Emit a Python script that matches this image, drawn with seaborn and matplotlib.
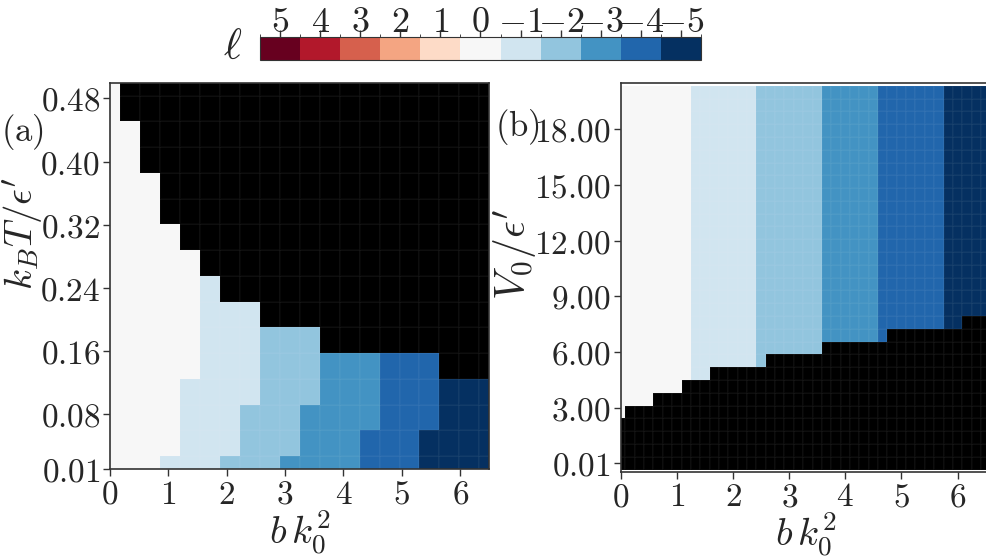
import numpy as np
import pandas as pd
import matplotlib
matplotlib.use("Agg")
import matplotlib.pyplot as plt
from matplotlib.colors import ListedColormap, BoundaryNorm
from matplotlib.cm import ScalarMappable
import seaborn as sns

X = np.nan  # unbound / no vortex state (drawn black)

# ---- panel (a): winding number l vs (b k0^2, k_B T / eps') ----
bk_a = [0.00, 0.34, 0.68, 1.03, 1.37, 1.71, 2.05, 2.39, 2.74, 3.08,
        3.42, 3.76, 4.11, 4.45, 4.79, 5.13, 5.47, 5.82, 6.16, 6.50]
kT_a = [0.010, 0.043, 0.075, 0.108, 0.141, 0.173, 0.206, 0.239,
        0.271, 0.304, 0.337, 0.369, 0.402, 0.435, 0.467, 0.500]
# rows from kT = 0.01 (bottom) up to kT = 0.50 (top)
ell_a = [
    [0, 0, 0, -1, -1, -1, -2, -2, -2, -3, -3, -3, -3, -4, -4, -4, -5, -5, -5, -5],
    [0, 0, 0, 0, -1, -1, -1, -2, -2, -2, -3, -3, -3, -4, -4, -4, -5, -5, -5, -5],
    [0, 0, 0, 0, -1, -1, -1, -2, -2, -2, -3, -3, -3, -3, -4, -4, -4, -5, -5, -5],
    [0, 0, 0, 0, -1, -1, -1, -1, -2, -2, -2, -3, -3, -3, -4, -4, -4, -5, -5, -5],
    [0, 0, 0, 0, 0, -1, -1, -1, -2, -2, -2, -3, -3, -3, -4, -4, -4, X, X, X],
    [0, 0, 0, 0, 0, -1, -1, -1, -2, -2, -2, X, X, X, X, X, X, X, X, X],
    [0, 0, 0, 0, 0, -1, -1, -1, X, X, X, X, X, X, X, X, X, X, X, X],
    [0, 0, 0, 0, 0, -1, X, X, X, X, X, X, X, X, X, X, X, X, X, X],
    [0, 0, 0, 0, 0, X, X, X, X, X, X, X, X, X, X, X, X, X, X, X],
    [0, 0, 0, 0, X, X, X, X, X, X, X, X, X, X, X, X, X, X, X, X],
    [0, 0, 0, X, X, X, X, X, X, X, X, X, X, X, X, X, X, X, X, X],
    [0, 0, 0, X, X, X, X, X, X, X, X, X, X, X, X, X, X, X, X, X],
    [0, 0, X, X, X, X, X, X, X, X, X, X, X, X, X, X, X, X, X, X],
    [0, 0, X, X, X, X, X, X, X, X, X, X, X, X, X, X, X, X, X, X],
    [0, X, X, X, X, X, X, X, X, X, X, X, X, X, X, X, X, X, X, X],
    [0, X, X, X, X, X, X, X, X, X, X, X, X, X, X, X, X, X, X, X],
]

# ---- panel (b): winding number l vs (b k0^2, V0 / eps') ----
bk_b = [0.00, 0.17, 0.33, 0.50, 0.67, 0.83, 1.00, 1.17, 1.33, 1.50,
        1.67, 1.83, 2.00, 2.17, 2.33, 2.50, 2.67, 2.83, 3.00, 3.17,
        3.33, 3.50, 3.67, 3.83, 4.00, 4.17, 4.33, 4.50, 4.67, 4.83,
        5.00, 5.17, 5.33, 5.50, 5.67, 5.83, 6.00, 6.17, 6.33, 6.50]
V0_b = [0.01, 0.70, 1.39, 2.08, 2.77, 3.46, 4.15, 4.84, 5.52, 6.21,
        6.90, 7.59, 8.28, 8.97, 9.66, 10.35, 11.04, 11.73, 12.42, 13.11,
        13.80, 14.49, 15.18, 15.86, 16.55, 17.24, 17.93, 18.62, 19.31, 20.00]
# l above the boundary, per column
ell_b = [0, 0, 0, 0, 0, 0, 0, 0, -1, -1,
         -1, -1, -1, -1, -1, -2, -2, -2, -2, -2,
         -2, -2, -3, -3, -3, -3, -3, -3, -4, -4,
         -4, -4, -4, -4, -4, -5, -5, -5, -5, -5]
# number of V0 rows (from the bottom) with no bound state, per column
unbound_rows_b = [4, 5, 5, 5, 6, 6, 6, 7, 7, 7,
                  8, 8, 8, 8, 8, 8, 9, 9, 9, 9,
                  9, 9, 10, 10, 10, 10, 10, 10, 10, 11,
                  11, 11, 11, 11, 11, 11, 11, 12, 12, 12]

ell_ticks = [5, 4, 3, 2, 1, 0, -1, -2, -3, -4, -5]
yticks_a = [0.01, 0.08, 0.16, 0.24, 0.32, 0.40, 0.48]
yticks_b = [0.01, 3, 6, 9, 12, 15, 18]
xticks = [0, 1, 2, 3, 4, 5, 6]

# RdBu 11 classes, ordered l = -5 ... 5
ell_colors = ["#053061", "#2166ac", "#4393c3", "#92c5de", "#d1e5f0", "#f7f7f7",
              "#fddbc7", "#f4a582", "#d6604d", "#b2182b", "#67001f"]
UNBOUND = 6

sns.set_style("ticks")
plt.rcParams["mathtext.fontset"] = "cm"
plt.rcParams["font.family"] = ["DejaVu Serif"]


def to_index(v, vals):
    # heatmap cell i is centred at i + 0.5
    return 0.5 + (np.asarray(v, float) - vals[0]) / (vals[-1] - vals[0]) * (len(vals) - 1)


def tick_text(v):
    # braces keep mathtext from padding a leading minus like a binary operator
    return f"${{-}}{-v}$" if v < 0 else f"${v}$"


def draw_panel(ax, grid, xs, ys):
    df = pd.DataFrame(grid, index=ys, columns=xs).fillna(UNBOUND)
    sns.heatmap(df, ax=ax, cmap=ListedColormap(ell_colors + ["black"]),
                vmin=-5.5, vmax=6.5, cbar=False, xticklabels=False, yticklabels=False,
                linewidths=0.25, linecolor=(1, 1, 1, 0.03))
    for s in ax.spines.values():
        s.set_visible(True)
        s.set_color("#333333")
        s.set_linewidth(1.2)
    ax.tick_params(direction="out", length=5, width=1, color="#333333",
                   labelsize=24, pad=2)


fig = plt.figure(figsize=(9.87, 5.6), dpi=100)

# (a)
ax_a = fig.add_axes([0.1115, 0.1625, 0.3843, 0.6898])
draw_panel(ax_a, ell_a, bk_a, kT_a)
ax_a.set_xlim(to_index(0, bk_a), to_index(6.5, bk_a))
ax_a.set_ylim(to_index(0.01, kT_a), to_index(0.5, kT_a))
ax_a.set_xticks(to_index(xticks, bk_a))
ax_a.set_xticklabels([f"${v}$" for v in xticks])
ax_a.set_yticks(to_index(yticks_a, kT_a))
ax_a.set_yticklabels([f"${v:.2f}$" for v in yticks_a])
ax_a.set_xlabel(r"$b\,k_0^2$", fontsize=28, labelpad=-2)
ax_a.set_ylabel(r"$k_BT/\epsilon'$", fontsize=28)
ax_a.yaxis.set_label_coords(-0.172, 0.61)

# (b)
grid_b = [[X if i < unbound_rows_b[j] else ell_b[j] for j in range(len(bk_b))]
          for i in range(len(V0_b))]
ax_b = fig.add_axes([0.6289, 0.1577, 0.3743, 0.6936])
draw_panel(ax_b, grid_b, bk_b, V0_b)
ax_b.set_xlim(to_index(0, bk_b), to_index(6.58, bk_b))
ax_b.set_ylim(to_index(-0.45, V0_b), to_index(20.48, V0_b))
ax_b.set_xticks(to_index(xticks, bk_b))
ax_b.set_xticklabels([f"${v}$" for v in xticks])
ax_b.set_yticks(to_index(yticks_b, V0_b))
ax_b.set_yticklabels([f"${v:.2f}$" for v in yticks_b])
ax_b.set_xlabel(r"$b\,k_0^2$", fontsize=28, labelpad=-2)
ax_b.set_ylabel(r"$V_0/\epsilon'$", fontsize=30)
ax_b.yaxis.set_label_coords(-0.222, 0.56)

fig.text(22 / 987, 1 - 132 / 560, r"$\mathrm{(a)}$", fontsize=25, ha="center", va="center")
fig.text(517 / 987, 1 - 127 / 560, r"$\mathrm{(b)}$", fontsize=25, ha="center", va="center")

# colour bar for l
cax = fig.add_axes([0.2634, 0.8929, 0.4468, 0.0416])
sm = ScalarMappable(norm=BoundaryNorm(np.arange(-5.5, 6.5, 1), len(ell_colors)),
                    cmap=ListedColormap(ell_colors))
cb = fig.colorbar(sm, cax=cax, orientation="horizontal", drawedges=True)
cb.outline.set_edgecolor("#333333")
cb.dividers.set_color("#555555")
cb.dividers.set_linewidth(1)
cax.invert_xaxis()
cax.xaxis.set_ticks_position("top")
cax.set_xticks(ell_ticks)
cax.set_xticklabels([tick_text(v) for v in ell_ticks])
cax.tick_params(axis="x", direction="out", length=5, width=1, color="#333333",
                labelsize=26, pad=-7)
fig.text(233 / 987, 1 - 47 / 560, r"$\ell$", fontsize=31, ha="center", va="center")

fig.savefig("out.png", dpi=100)
